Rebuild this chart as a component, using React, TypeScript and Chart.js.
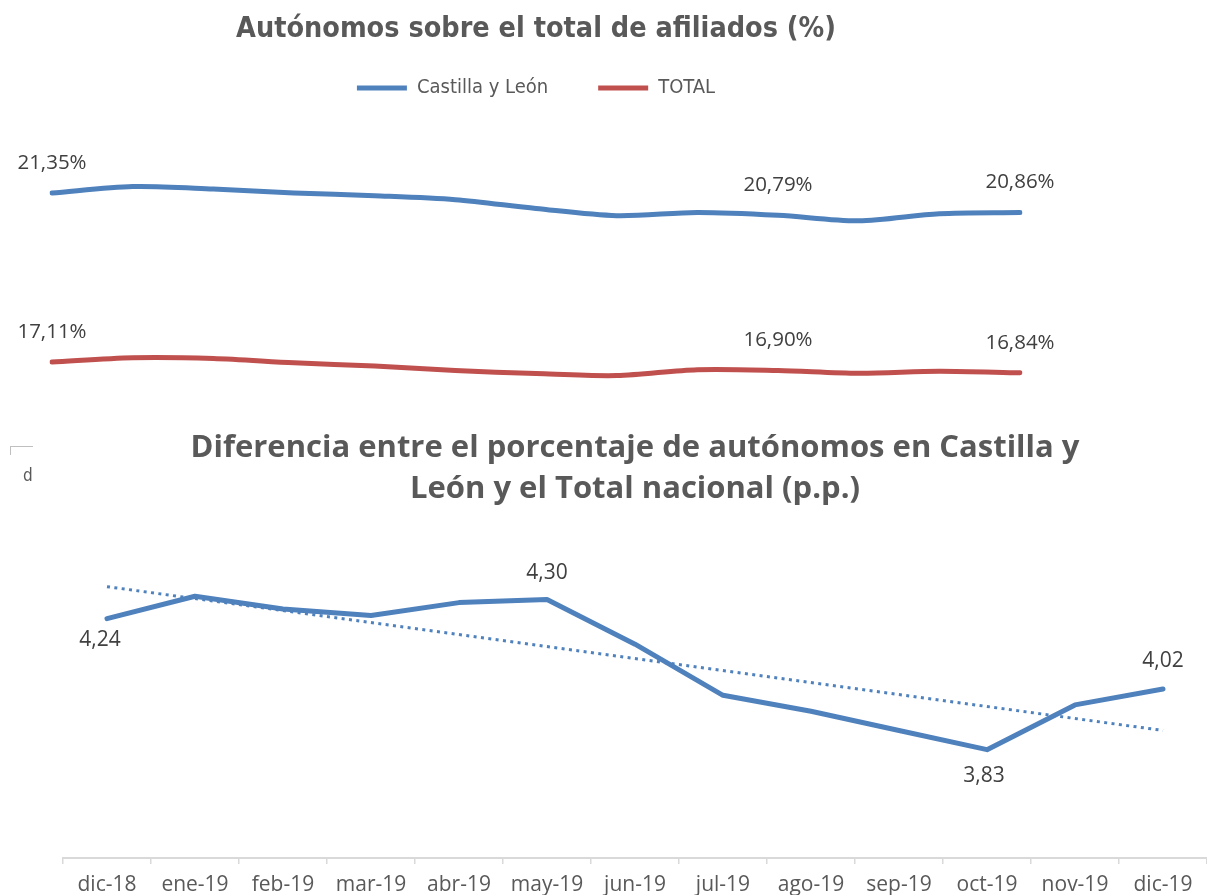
import React, { useEffect, useRef } from "react";
import { Chart, registerables } from "chart.js";

Chart.register(...registerables);

// ---------- data ----------
const months = [
  "dic-18", "ene-19", "feb-19", "mar-19", "abr-19", "may-19", "jun-19",
  "jul-19", "ago-19", "sep-19", "oct-19", "nov-19", "dic-19",
];
const castillaLeon = [21.35, 21.51, 21.45, 21.35, 21.28, 21.18, 20.96, 20.78, 20.86, 20.79, 20.65, 20.83, 20.86];
const totalNacional = [17.11, 17.22, 17.2, 17.09, 17.01, 16.9, 16.82, 16.77, 16.92, 16.9, 16.83, 16.88, 16.84];
const diferencia = [4.24, 4.31, 4.27, 4.25, 4.29, 4.3, 4.16, 4.0, 3.95, 3.89, 3.83, 3.97, 4.02];
// linear trend line end values (first and last month)
const trendStart = 4.34;
const trendEnd = 3.89;

const topTitle = "Autónomos sobre el total de afiliados (%)";
const bottomTitle = [
  "Diferencia entre el porcentaje de autónomos en Castilla y",
  "León y el Total nacional (p.p.)",
];
const seriesNames = ["Castilla y León", "TOTAL"];

// indices of points that carry a value label
const topLabelIdx = [0, 9, 12];
const bottomLabels = [
  { index: 0, dx: -7, dy: 21 },
  { index: 5, dx: 0, dy: -26 },
  { index: 10, dx: -3, dy: 26 },
  { index: 12, dx: 0, dy: -28 },
];

// ---------- style ----------
const BLUE = "#4F81BD";
const RED = "#C0504D";
const TITLE_GREY = "#595959";
const LABEL_GREY = "#404040";
const NARROW = "'DejaVu Sans Condensed', 'Liberation Sans', sans-serif";
const SANS = "'Open Sans', 'Noto Sans', sans-serif";

const trendData: (number | null)[] = months.map((_, i) =>
  i === 0 ? trendStart : i === months.length - 1 ? trendEnd : null
);

const fmt = (v: number, suffix: string) => v.toFixed(2).replace(".", ",") + suffix;

const pointLabelPlugin = {
  id: "pointLabels",
  afterDatasetsDraw(chart: any, _args: any, opts: any) {
    const items = (opts && opts.items) || [];
    const ctx = chart.ctx;
    ctx.save();
    ctx.font = `${opts.size}px ${opts.family}`;
    ctx.fillStyle = opts.color;
    ctx.textAlign = "center";
    ctx.textBaseline = "middle";
    for (const it of items) {
      const meta = chart.getDatasetMeta(it.dataset);
      const el = meta.data[it.index];
      const v = chart.data.datasets[it.dataset].data[it.index] as number;
      ctx.fillText(fmt(v, opts.suffix || ""), el.x + (it.dx || 0), el.y + it.dy);
    }
    ctx.restore();
  },
};

export default function App() {
  const topRef = useRef<HTMLCanvasElement>(null);
  const botRef = useRef<HTMLCanvasElement>(null);

  useEffect(() => {
    const topItems: any[] = [];
    [0, 1].forEach((ds) => topLabelIdx.forEach((i) => topItems.push({ dataset: ds, index: i, dy: -30 })));

    const c1 = new Chart(topRef.current as HTMLCanvasElement, {
      type: "line",
      data: {
        labels: months,
        datasets: [
          {
            label: seriesNames[0],
            data: castillaLeon,
            borderColor: BLUE,
            backgroundColor: BLUE,
            borderWidth: 5,
            pointRadius: 0,
            tension: 0.3,
            borderCapStyle: "round",
            borderJoinStyle: "round",
          },
          {
            label: seriesNames[1],
            data: totalNacional,
            borderColor: RED,
            backgroundColor: RED,
            borderWidth: 5,
            pointRadius: 0,
            tension: 0.3,
            borderCapStyle: "round",
            borderJoinStyle: "round",
          },
        ],
      },
      options: {
        responsive: true,
        maintainAspectRatio: false,
        animation: false,
        events: [],
        layout: { padding: { left: 52, right: 187, top: 12, bottom: 0 } },
        scales: {
          x: { display: false, offset: false },
          y: { display: false, min: 15.657, max: 23.48 },
        },
        plugins: {
          title: {
            display: true,
            text: topTitle,
            color: TITLE_GREY,
            font: { family: NARROW, size: 28.5, weight: "bold" },
            padding: { top: 0, bottom: 21.8 },
          },
          legend: {
            display: true,
            labels: {
              usePointStyle: true,
              pointStyle: "line",
              pointStyleWidth: 50,
              color: TITLE_GREY,
              font: { family: NARROW, size: 20 },
              padding: 10,
              generateLabels: (chart: any) => {
                const base = Chart.defaults.plugins.legend.labels.generateLabels(chart);
                return base.map((l: any, i: number) => ({
                  ...l,
                  text: i === 0 ? l.text + "       " : l.text,
                }));
              },
            },
          },
          tooltip: { enabled: false },
          // @ts-ignore
          pointLabels: { items: topItems, size: 20.5, family: SANS, color: LABEL_GREY, suffix: "%" },
        },
      },
      plugins: [pointLabelPlugin],
    } as any);

    const c2 = new Chart(botRef.current as HTMLCanvasElement, {
      type: "line",
      data: {
        labels: months,
        datasets: [
          {
            label: "Diferencia",
            data: diferencia,
            borderColor: BLUE,
            backgroundColor: BLUE,
            borderWidth: 5,
            pointRadius: 0,
            tension: 0,
            borderCapStyle: "round",
            borderJoinStyle: "round",
          },
          {
            label: "Lineal (Diferencia)",
            data: trendData,
            borderColor: BLUE,
            backgroundColor: BLUE,
            borderWidth: 3,
            borderDash: [3, 4.4],
            pointRadius: 0,
            spanGaps: true,
            tension: 0,
          },
        ],
      },
      options: {
        responsive: true,
        maintainAspectRatio: false,
        animation: false,
        events: [],
        layout: { padding: { left: 63, right: 0, top: 8, bottom: 0 } },
        scales: {
          x: {
            offset: true,
            grid: {
              offset: true,
              drawOnChartArea: false,
              drawTicks: true,
              tickLength: 6,
              color: "#D9D9D9",
              lineWidth: 1.5,
            },
            border: { display: true, color: "#D9D9D9", width: 2 },
            ticks: {
              color: TITLE_GREY,
              font: { family: SANS, size: 21, lineHeight: 1 },
              padding: 11,
              maxRotation: 0,
              autoSkip: false,
            },
          },
          y: { display: false, min: 3.491, max: 4.549 },
        },
        plugins: {
          title: {
            display: true,
            text: bottomTitle,
            color: TITLE_GREY,
            font: { family: SANS, size: 31, weight: "bold", lineHeight: 1.32 },
            padding: { top: 0, bottom: 10 },
          },
          legend: { display: false },
          tooltip: { enabled: false },
          // @ts-ignore
          pointLabels: {
            items: bottomLabels.map((b) => ({ dataset: 0, index: b.index, dx: b.dx, dy: b.dy })),
            size: 21,
            family: SANS,
            color: LABEL_GREY,
            suffix: "",
          },
        },
      },
      plugins: [pointLabelPlugin],
    } as any);

    return () => {
      c1.destroy();
      c2.destroy();
    };
  }, []);

  return (
    <div
      style={{
        position: "fixed",
        left: 0,
        top: 0,
        width: 1207,
        height: 895,
        overflow: "hidden",
        background: "#ffffff",
      }}
    >
      <div style={{ position: "absolute", left: 0, top: 0, width: 1207, height: 420 }}>
        <canvas ref={topRef} />
      </div>
      <div style={{ position: "absolute", left: 0, top: 420, width: 1207, height: 487 }}>
        <canvas ref={botRef} />
      </div>
      <div
        style={{
          position: "absolute",
          left: 10,
          top: 446,
          width: 22,
          height: 8,
          borderTop: "1.5px solid #BFBFBF",
          borderLeft: "1.5px solid #BFBFBF",
        }}
      />
      <div
        style={{
          position: "absolute",
          left: 23,
          top: 464,
          fontFamily: NARROW,
          fontSize: 17,
          color: TITLE_GREY,
          lineHeight: "22px",
        }}
      >
        d
      </div>
    </div>
  );
}
